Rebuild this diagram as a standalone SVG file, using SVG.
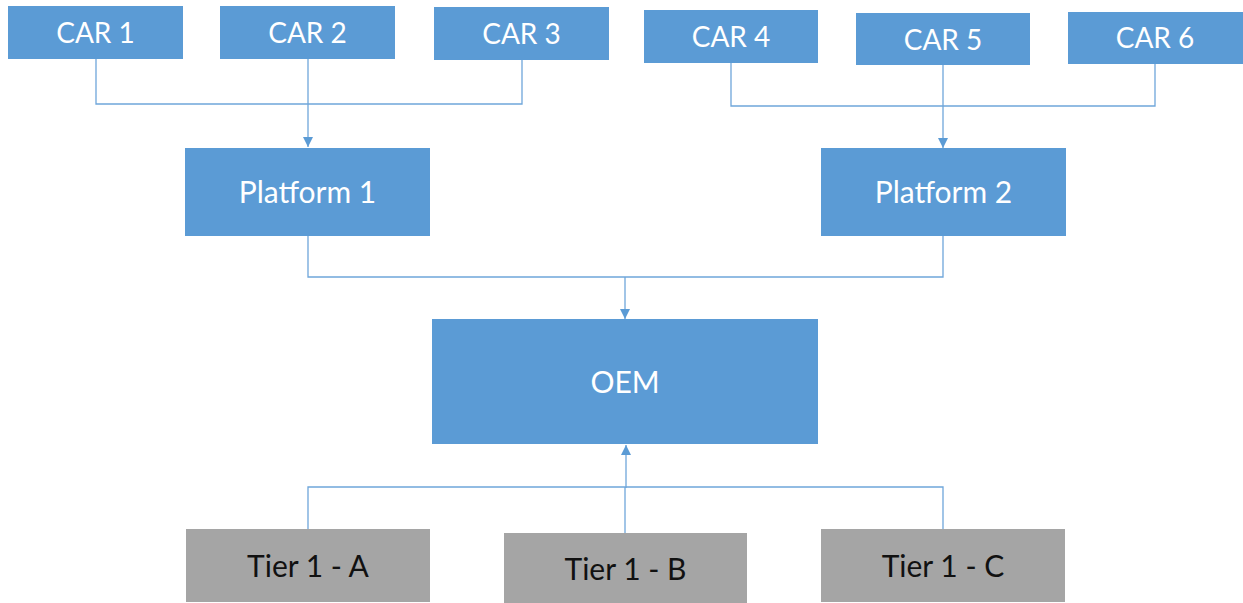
<svg xmlns="http://www.w3.org/2000/svg" width="1243" height="603" viewBox="0 0 1243 603">
<style>
.b{fill:#5B9BD5}
.g{fill:#A5A5A5}
.t{font-family:Lato,"Open Sans","Liberation Sans",sans-serif;font-size:28px;text-anchor:middle;fill:#fff}
.l{font-size:30px}
.k{fill:#111}
.c{fill:none;stroke:#6FA6DA;stroke-width:1.3}
</style>
<defs>
<marker id="ah" viewBox="0 0 10 10" refX="10" refY="5" markerWidth="10" markerHeight="10" markerUnits="userSpaceOnUse" orient="auto">
<path d="M0,0L10,5L0,10Z" fill="#5B9BD5"/>
</marker>
</defs>
<rect width="1243" height="603" fill="#fff"/>
<g id="connectors">
<path class="c" d="M96,59V104H522V60"/>
<path class="c" d="M308,59V147" marker-end="url(#ah)"/>
<path class="c" d="M731,62V106H1155V64"/>
<path class="c" d="M943,65V148" marker-end="url(#ah)"/>
<path class="c" d="M308,236V277H943V236"/>
<path class="c" d="M625,277V319" marker-end="url(#ah)"/>
<path class="c" d="M308,530V487H943V530"/>
<path class="c" d="M625,533V487"/>
<path class="c" d="M626,488V445" marker-end="url(#ah)"/>
</g>
<g id="car1"><rect class="b" x="8" y="6" width="175" height="53"/><text class="t" x="95.5" y="43">CAR 1</text></g>
<g id="car2"><rect class="b" x="220" y="6" width="175" height="53"/><text class="t" x="307.5" y="43">CAR 2</text></g>
<g id="car3"><rect class="b" x="434" y="7" width="175" height="53"/><text class="t" x="521.5" y="44">CAR 3</text></g>
<g id="car4"><rect class="b" x="644" y="10" width="174" height="53"/><text class="t" x="731" y="47">CAR 4</text></g>
<g id="car5"><rect class="b" x="856" y="13" width="174" height="52"/><text class="t" x="943" y="50">CAR 5</text></g>
<g id="car6"><rect class="b" x="1068" y="12" width="175" height="52"/><text class="t" x="1155" y="48">CAR 6</text></g>
<g id="platform1"><rect class="b" x="185" y="148" width="245" height="88"/><text class="t l" x="307.5" y="203">Platform 1</text></g>
<g id="platform2"><rect class="b" x="821" y="148" width="245" height="88"/><text class="t l" x="943.5" y="203">Platform 2</text></g>
<g id="oem"><rect class="b" x="432" y="319" width="386" height="125"/><text class="t l" x="625" y="393">OEM</text></g>
<g id="tier1a"><rect class="g" x="186" y="529" width="244" height="73"/><text class="t l k" x="308" y="577">Tier 1 - A</text></g>
<g id="tier1b"><rect class="g" x="504" y="533" width="243" height="70"/><text class="t l k" x="625.5" y="580">Tier 1 - B</text></g>
<g id="tier1c"><rect class="g" x="821" y="529" width="244" height="73"/><text class="t l k" x="943" y="577">Tier 1 - C</text></g>
</svg>
